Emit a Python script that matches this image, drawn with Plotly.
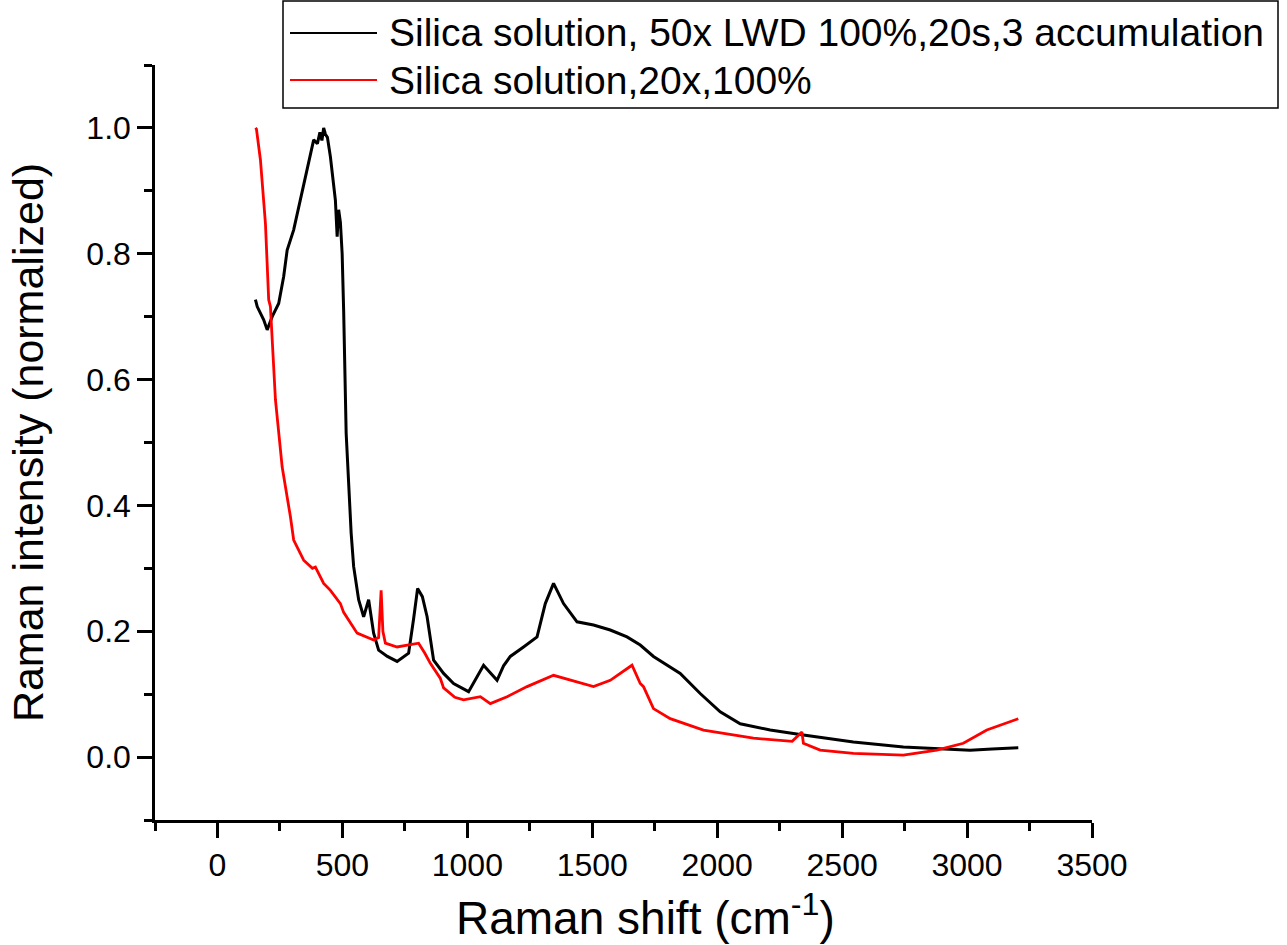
import plotly.graph_objects as go

# Raman shift (cm^-1) and normalized intensity
shift_50x = [152, 159, 185, 199, 219, 245, 265, 279, 305, 345, 385, 400, 410, 418, 425, 432,
             440, 452, 472, 479, 485, 492, 499, 505, 515, 535, 545, 565, 585, 605, 625, 645,
             680, 719, 765, 785, 801, 820, 839, 865, 905, 945, 1005, 1035, 1065, 1090, 1119,
             1145, 1172, 1225, 1279, 1312, 1345, 1385, 1439, 1505, 1572, 1639, 1692, 1745,
             1852, 1932, 2012, 2092, 2212, 2345, 2545, 2745, 2879, 3012, 3100, 3205]
int_50x = [0.727, 0.716, 0.695, 0.679, 0.700, 0.721, 0.764, 0.806, 0.838, 0.907, 0.981, 0.975,
           0.993, 0.98, 1.0, 0.99, 0.985, 0.954, 0.885, 0.827, 0.87, 0.85, 0.80, 0.71, 0.515,
           0.356, 0.303, 0.25, 0.223, 0.25, 0.197, 0.17, 0.16, 0.152, 0.165, 0.22, 0.268,
           0.255, 0.223, 0.154, 0.133, 0.117, 0.104, 0.125, 0.146, 0.135, 0.122, 0.145, 0.16,
           0.175, 0.191, 0.244, 0.276, 0.244, 0.215, 0.21, 0.202, 0.191, 0.178, 0.16, 0.133,
           0.101, 0.072, 0.053, 0.043, 0.035, 0.024, 0.016, 0.014, 0.011, 0.013, 0.015]

shift_20x = [152, 156, 172, 192, 205, 212, 232, 259, 292, 305, 345, 380, 392, 425, 452, 492,
             505, 559, 625, 645, 655, 662, 672, 719, 760, 805, 830, 852, 892, 905, 950, 985,
             1052, 1092, 1159, 1239, 1345, 1412, 1505, 1572, 1612, 1645, 1659, 1692, 1705,
             1745, 1812, 1945, 2145, 2300, 2339, 2345, 2412, 2545, 2745, 2879, 2985, 3079, 3205]
int_20x = [1.0, 0.998, 0.949, 0.848, 0.727, 0.716, 0.568, 0.461, 0.382, 0.345, 0.313, 0.30,
           0.302, 0.276, 0.265, 0.244, 0.23, 0.197, 0.186, 0.19, 0.265, 0.2, 0.181, 0.175,
           0.178, 0.181, 0.165, 0.149, 0.125, 0.11, 0.095, 0.091, 0.096, 0.085, 0.096, 0.112,
           0.13, 0.122, 0.112, 0.122, 0.133, 0.143, 0.146, 0.117, 0.112, 0.077, 0.061, 0.043,
           0.03, 0.025, 0.04, 0.022, 0.011, 0.006, 0.003, 0.011, 0.022, 0.043, 0.061]

series_names = ["Silica solution, 50x LWD 100%,20s,3 accumulation", "Silica solution,20x,100%"]
series_colors = ["black", "#ff0000"]

FONT = "Liberation Sans, Arial, sans-serif"
W, H = 1287, 945
ML, MR, MT, MB = 155, 195, 65, 125
PW, PH = W - ML - MR, H - MT - MB


def px_x(p):
    return (p - ML) / PW


def px_y(p):
    return (H - MB - p) / PH


fig = go.Figure()
fig.add_trace(go.Scatter(x=shift_50x, y=int_50x, mode="lines", name=series_names[0],
                         line=dict(color=series_colors[0], width=3), showlegend=False))
fig.add_trace(go.Scatter(x=shift_20x, y=int_20x, mode="lines", name=series_names[1],
                         line=dict(color=series_colors[1], width=2.8), showlegend=False))

axis_common = dict(
    showline=True, linecolor="black", linewidth=2.5, mirror=False,
    ticks="outside", ticklen=15, tickwidth=2.5, tickcolor="black",
    showgrid=False, zeroline=False,
    tickfont=dict(family=FONT, size=32, color="black"),
)

# legend box (drawn in paper coordinates so it does not push the margins)
shapes = [dict(type="rect", xref="paper", yref="paper",
               x0=px_x(283), x1=px_x(1278), y0=px_y(108), y1=px_y(1),
               line=dict(color="black", width=1.5), fillcolor="white", layer="above")]
annotations = []
for i, (nm, col) in enumerate(zip(series_names, series_colors)):
    yy = [33, 80][i]
    shapes.append(dict(type="line", xref="paper", yref="paper",
                       x0=px_x(290), x1=px_x(377), y0=px_y(yy), y1=px_y(yy),
                       line=dict(color=col, width=2.2), layer="above"))
    annotations.append(dict(text=nm, xref="paper", yref="paper", x=px_x(387), y=px_y(yy),
                            xanchor="left", yanchor="middle", showarrow=False,
                            font=dict(family=FONT, size=39, color="black")))

# x axis title
annotations.append(dict(text="Raman shift (cm<sup>-1</sup>)", xref="paper", yref="paper",
                        x=px_x(645), y=px_y(915), xanchor="center", yanchor="middle",
                        showarrow=False, font=dict(family=FONT, size=46, color="black")))

fig.update_layout(
    width=W, height=H,
    margin=dict(l=ML, r=MR, t=MT, b=MB, autoexpand=False),
    paper_bgcolor="white", plot_bgcolor="white",
    font=dict(family=FONT, color="black"),
    xaxis=dict(range=[-250, 3500], tick0=0, dtick=500,
               minor=dict(ticks="outside", dtick=250, tick0=-250, ticklen=8,
                          tickwidth=2.5, tickcolor="black"),
               **axis_common),
    yaxis=dict(range=[-0.1, 1.1], tick0=0, dtick=0.2, tickformat=".1f",
               minor=dict(ticks="outside", dtick=0.1, tick0=-0.1, ticklen=8,
                          tickwidth=2.5, tickcolor="black"),
               title=dict(text="Raman intensity (normalized)",
                          font=dict(family=FONT, size=43, color="black"), standoff=30),
               **axis_common),
    shapes=shapes,
    annotations=annotations,
    showlegend=False,
)

fig.write_html("out.html")
